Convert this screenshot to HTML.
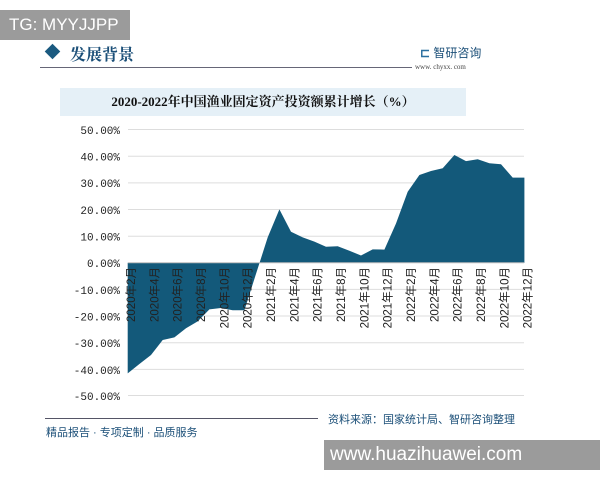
<!DOCTYPE html>
<html><head><meta charset="utf-8"><style>
body{margin:0;width:600px;height:480px;background:#fff;overflow:hidden;position:relative;font-family:"Liberation Sans","Noto Sans CJK SC",sans-serif}
.a{position:absolute;white-space:nowrap}
</style></head><body>
<div class="a" style="left:0;top:10px;width:130px;height:30px;background:#9b9b9b;color:#fff;font-size:17px;line-height:30px;padding-left:9px;box-sizing:border-box">TG: MYYJJPP</div>
<div class="a" style="left:47px;top:46px;width:11px;height:11px;background:#1b5a80;transform:rotate(45deg)"></div>
<div class="a" style="left:70px;top:42px;font-size:16px;font-weight:bold;color:#1b4f78;font-family:'Noto Serif CJK SC',serif">发展背景</div>
<div class="a" style="left:40px;top:67px;width:372px;height:1px;background:#667"></div>
<div class="a" style="left:420px;top:44px;font-size:12px;color:#1b4f78"><span style="color:#2a6fa0;font-weight:bold">⊏</span> 智研咨询</div>
<div class="a" style="left:415px;top:63px;font-size:7px;color:#444;font-family:'Liberation Serif',serif">www. chyxx. com</div>
<div class="a" style="left:60px;top:88px;width:406px;height:28px;background:#e5f0f7"></div>
<div class="a" style="left:60px;top:88px;width:406px;height:28px;line-height:28px;text-align:center;font-size:13px;font-weight:bold;color:#111;font-family:'Liberation Serif','Noto Serif CJK SC',serif">2020-2022年中国渔业固定资产投资额累计增长（%）</div>
<svg class="a" style="left:0;top:0" width="600" height="480">
<g stroke="#ddd" stroke-width="1">
<line x1="128" x2="524" y1="129.5" y2="129.5"/><line x1="128" x2="524" y1="156.2" y2="156.2"/><line x1="128" x2="524" y1="182.9" y2="182.9"/><line x1="128" x2="524" y1="209.5" y2="209.5"/><line x1="128" x2="524" y1="236.2" y2="236.2"/><line x1="128" x2="524" y1="289.4" y2="289.4"/><line x1="128" x2="524" y1="316" y2="316"/><line x1="128" x2="524" y1="342.7" y2="342.7"/><line x1="128" x2="524" y1="369.4" y2="369.4"/><line x1="128" x2="524" y1="395.5" y2="395.5"/>
</g>
<polygon fill="#13597a" points="127.7,262.7 127.7,373.4 139.4,364.0 151.0,355.0 162.7,340.0 174.4,337.4 186.0,328.3 197.7,321.4 209.4,309.4 221.0,308.0 232.7,310.2 244.4,310.2 256.0,273.9 267.7,237.4 279.4,209.4 291.0,231.8 302.7,237.4 314.4,241.6 326.0,246.7 337.7,246.2 349.4,250.7 361.0,255.5 372.7,249.4 384.4,249.6 396.0,223.5 407.7,191.8 419.4,175.0 431.0,171.0 442.7,168.3 454.4,155.0 466.0,161.1 477.7,159.2 489.4,163.2 501.0,164.3 512.7,177.6 524.4,177.6 524.4,262.7"/>
<line x1="128" x2="524" y1="262.7" y2="262.7" stroke="#bbb"/>
<g font-size="11" fill="#222" text-anchor="end" font-family="Liberation Mono,monospace">
<text x="120" y="134">50.00%</text><text x="120" y="160.5">40.00%</text><text x="120" y="187">30.00%</text><text x="120" y="214">20.00%</text><text x="120" y="240.5">10.00%</text><text x="120" y="267">0.00%</text><text x="120" y="294">-10.00%</text><text x="120" y="320.5">-20.00%</text><text x="120" y="347">-30.00%</text><text x="120" y="374">-40.00%</text><text x="120" y="400">-50.00%</text>
</g>
<g font-size="11.5" fill="#222" text-anchor="end">
<text transform="translate(135,267) rotate(-90)">2020年2月</text>
<text transform="translate(158.3,267) rotate(-90)">2020年4月</text>
<text transform="translate(181.6,267) rotate(-90)">2020年6月</text>
<text transform="translate(204.9,267) rotate(-90)">2020年8月</text>
<text transform="translate(228.3,267) rotate(-90)">2020年10月</text>
<text transform="translate(251.6,267) rotate(-90)">2020年12月</text>
<text transform="translate(275,267) rotate(-90)">2021年2月</text>
<text transform="translate(298.3,267) rotate(-90)">2021年4月</text>
<text transform="translate(321.6,267) rotate(-90)">2021年6月</text>
<text transform="translate(344.9,267) rotate(-90)">2021年8月</text>
<text transform="translate(368.3,267) rotate(-90)">2021年10月</text>
<text transform="translate(391.6,267) rotate(-90)">2021年12月</text>
<text transform="translate(415,267) rotate(-90)">2022年2月</text>
<text transform="translate(438.3,267) rotate(-90)">2022年4月</text>
<text transform="translate(461.6,267) rotate(-90)">2022年6月</text>
<text transform="translate(484.9,267) rotate(-90)">2022年8月</text>
<text transform="translate(508.3,267) rotate(-90)">2022年10月</text>
<text transform="translate(531.6,267) rotate(-90)">2022年12月</text>
</g>
</svg>
<div class="a" style="left:45px;top:418px;width:273px;height:1px;background:#556"></div>
<div class="a" style="left:46px;top:424px;font-size:11px;color:#1b4f78">精品报告 · 专项定制 · 品质服务</div>
<div class="a" style="left:328px;top:411px;font-size:11px;color:#1b4f78">资料来源：国家统计局、智研咨询整理</div>
<div class="a" style="left:324px;top:440px;width:276px;height:30px;background:#9b9b9b;color:#fff;font-size:19px;line-height:30px;padding-left:6px;box-sizing:border-box">www.huazihuawei.com</div>
</body></html>
